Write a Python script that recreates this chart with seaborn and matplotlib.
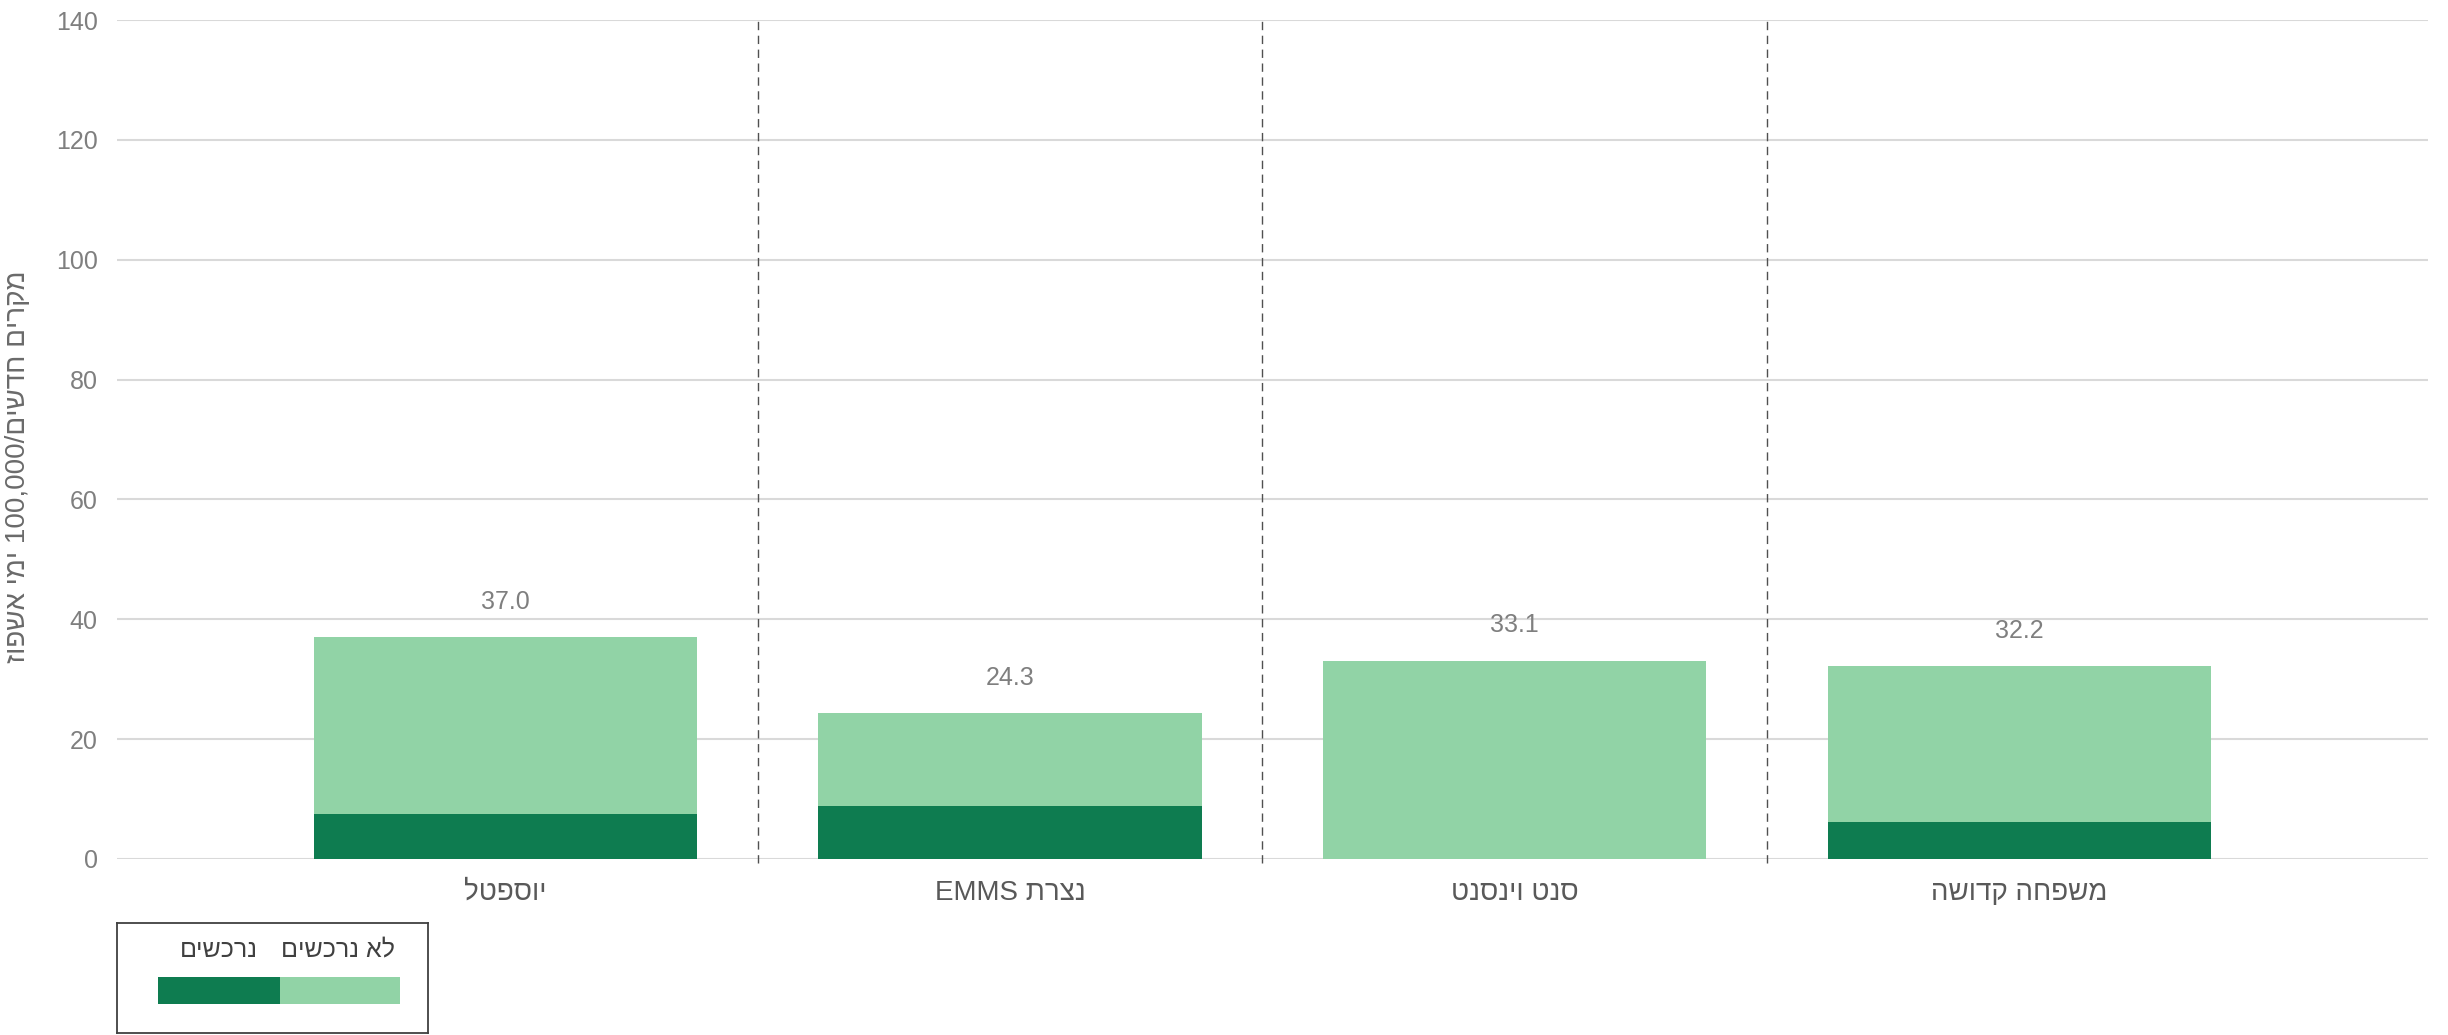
import re
import numpy as np
import pandas as pd
import matplotlib
matplotlib.use("Agg")
import matplotlib.pyplot as plt
import seaborn as sns

# data
hospitals = ["יוספטל", "נצרת EMMS", "סנט וינסנט", "משפחה קדושה"]
total = [37.0, 24.3, 33.1, 32.2]          # לא נרכשים + נרכשים
acquired = [7.5, 8.9, 0.0, 6.1]           # נרכשים
series_names = ["נרכשים", "לא נרכשים"]
y_label = "מקרים חדשים/100,000 ימי אשפוז"
y_ticks = [0, 20, 40, 60, 80, 100, 120, 140]

DARK = "#0E7C50"
LIGHT = "#91D3A6"
GRID = "#D9D9D9"
TXT = "#7F7F7F"
FONT = ["Liberation Sans", "DejaVu Sans"]


def vis(s):
    # matplotlib has no bidi: reverse for display, keep latin/digit runs LTR
    r = s[::-1]
    return re.sub(r"[A-Za-z0-9,.]+", lambda m: m.group(0)[::-1], r)


sns.set_theme(style="white")
plt.rcParams["font.family"] = FONT

df = pd.DataFrame({"hospital": hospitals, "total": total, "acquired": acquired})

fig = plt.figure(figsize=(24.48, 10.35), dpi=100)
ax = fig.add_axes([117 / 2448, 1 - 859 / 1035, (2428 - 117) / 2448, (859 - 20) / 1035])

sns.barplot(data=df, x="hospital", y="total", color=LIGHT, width=0.76,
            saturation=1, linewidth=0, ax=ax, zorder=3)
sns.barplot(data=df, x="hospital", y="acquired", color=DARK, width=0.76,
            saturation=1, linewidth=0, ax=ax, zorder=4)

for i, v in enumerate(total):
    ax.text(i, v + 5.9, f"{v:.1f}", ha="center", va="center", fontsize=18, color=TXT)

for x in np.arange(len(hospitals) - 1) + 0.5:
    ax.vlines(x, -0.6, 140.4, color="#505050", lw=1.0, linestyles=(0, (6, 4)),
              zorder=2, clip_on=False)

ax.set_ylim(0, 140)
ax.set_xlim(-0.77, len(hospitals) - 1 + 0.81)
ax.set_yticks(y_ticks)
ax.yaxis.grid(True, color=GRID, lw=1.5, zorder=0)
ax.set_axisbelow(True)
for sp in ax.spines.values():
    sp.set_visible(False)
ax.tick_params(axis="y", length=0, pad=14, labelsize=18, labelcolor=TXT)
ax.tick_params(axis="x", length=0, pad=15, labelsize=20, labelcolor="#595959")
ax.set_xticks(range(len(hospitals)))
ax.set_xticklabels([vis(h) for h in hospitals])
ax.set_xlabel("")
ax.set_ylabel(vis(y_label), fontsize=20, color="#6A6A6A")
ax.yaxis.set_label_coords(-0.037, 0.468)

# legend box
lax = fig.add_axes([117 / 2448, 2 / 1035, (428 - 117) / 2448, (1033 - 923) / 1035])
lax.set_xlim(0, 1)
lax.set_ylim(0, 1)
lax.set_xticks([])
lax.set_yticks([])
for sp in lax.spines.values():
    sp.set_color("#404040")
    sp.set_linewidth(1.3)
lax.add_patch(plt.Rectangle((0.132, 0.264), 0.392, 0.245, color=DARK, lw=0))
lax.add_patch(plt.Rectangle((0.524, 0.264), 0.386, 0.245, color=LIGHT, lw=0))
lax.text(0.328, 0.755, vis(series_names[0]), ha="center", va="center", fontsize=18, color="#404040")
lax.text(0.711, 0.755, vis(series_names[1]), ha="center", va="center", fontsize=18, color="#404040")

fig.savefig("out.png", dpi=100)
